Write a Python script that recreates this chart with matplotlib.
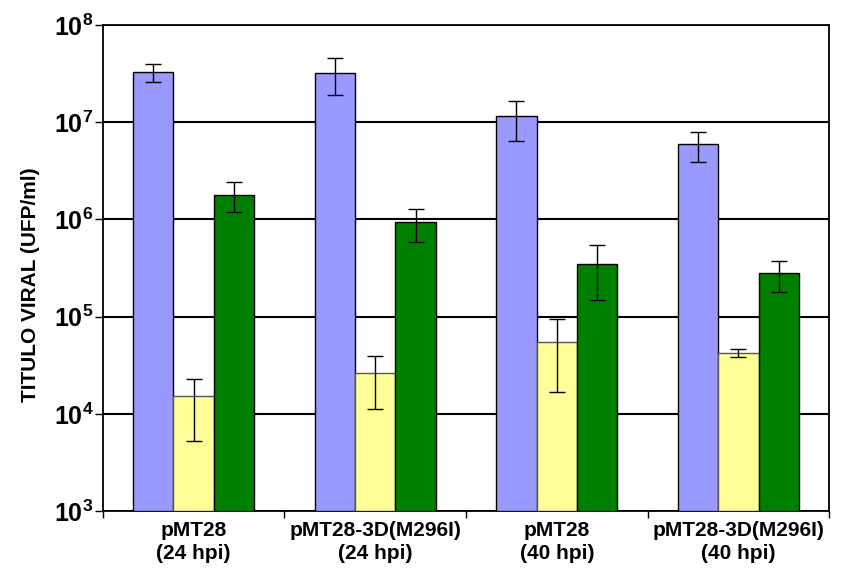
import numpy as np
import matplotlib.pyplot as plt
from matplotlib.ticker import FixedLocator, FixedFormatter, NullFormatter

plt.rcParams['font.family'] = ['Liberation Sans', 'DejaVu Sans']
plt.rcParams['font.weight'] = 'bold'
plt.rcParams['mathtext.fontset'] = 'custom'
plt.rcParams['mathtext.rm'] = 'Liberation Sans:bold'
plt.rcParams['mathtext.bf'] = 'Liberation Sans:bold'
plt.rcParams['mathtext.it'] = 'Liberation Sans:bold'

# titers per group (pfu/ml) with lower / upper error limits
groups = ['pMT28\n(24 hpi)', 'pMT28-3D(M296I)\n(24 hpi)', 'pMT28\n(40 hpi)', 'pMT28-3D(M296I)\n(40 hpi)']
blue = [3.3e7, 3.2e7, 1.15e7, 5.9e6]
blue_lo = [2.6e7, 1.9e7, 6.4e6, 3.9e6]
blue_hi = [4.0e7, 4.6e7, 1.66e7, 8.0e6]
yellow = [1.41e4, 2.5e4, 5.4e4, 4.17e4]
yellow_lo = [5.3e3, 1.11e4, 1.67e4, 3.8e4]
yellow_hi = [2.26e4, 3.96e4, 9.4e4, 4.65e4]
green = [1.8e6, 9.5e5, 3.5e5, 2.8e5]
green_lo = [1.18e6, 5.9e5, 1.47e5, 1.78e5]
green_hi = [2.4e6, 1.28e6, 5.5e5, 3.76e5]

colors = ['#9999ff', '#ffff99', '#008000']
edges = ['black', '#555555', 'black']

fig = plt.figure(figsize=(8.42, 5.72), dpi=100)
ax = fig.add_axes([0.1223, 0.1066, 0.8623, 0.8497])

x = np.arange(len(groups))
w = 0.223
series = [(blue, blue_lo, blue_hi), (yellow, yellow_lo, yellow_hi), (green, green_lo, green_hi)]
for i, (vals, lo, hi) in enumerate(series):
    vals = np.array(vals)
    err = [vals - np.array(lo), np.array(hi) - vals]
    ax.bar(x + (i - 1) * w, vals, width=w, bottom=1e3, color=colors[i],
           edgecolor=edges[i], linewidth=1.0, zorder=3)
    ax.errorbar(x + (i - 1) * w, vals, yerr=err, fmt='none', ecolor='black',
                elinewidth=1.0, capsize=6, capthick=1.0, zorder=4)

ax.set_yscale('log')
ax.set_ylim(1e3, 1e8)
ax.set_xlim(-0.5, 3.5)

decades = [1e3, 1e4, 1e5, 1e6, 1e7, 1e8]
ax.yaxis.set_major_locator(FixedLocator(decades))
ax.yaxis.set_major_formatter(FixedFormatter([r'$10^{%d}$' % k for k in range(3, 9)]))
ax.yaxis.set_minor_locator(FixedLocator([]))
ax.tick_params(axis='y', which='major', labelsize=18, length=6, width=1, direction='out', pad=1)
ax.yaxis.grid(True, color='black', linewidth=1.5, zorder=0)
ax.set_axisbelow(True)

# tick marks between groups, labels centred under each group
ax.xaxis.set_major_locator(FixedLocator([-0.5, 0.5, 1.5, 2.5, 3.5]))
ax.xaxis.set_major_formatter(NullFormatter())
ax.xaxis.set_minor_locator(FixedLocator(x))
ax.xaxis.set_minor_formatter(FixedFormatter(groups))
ax.tick_params(axis='x', which='major', length=5, width=1, direction='out')
ax.tick_params(axis='x', which='minor', length=0, labelsize=15, pad=7)
for lbl in ax.xaxis.get_minorticklabels():
    lbl.set_linespacing(1.3)

for s in ax.spines.values():
    s.set_linewidth(1.3)
    s.set_color('black')

ax.set_ylabel('TITULO VIRAL (UFP/ml)', fontsize=15, fontweight='bold')
ax.yaxis.set_label_coords(-0.087, 0.465)

fig.savefig('out.png', dpi=100)
